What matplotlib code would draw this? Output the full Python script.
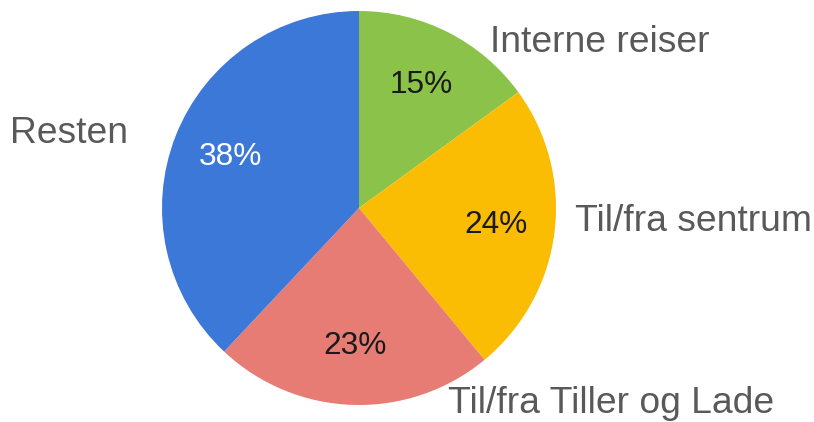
import matplotlib.pyplot as plt

plt.rcParams['font.family'] = ['Liberation Sans', 'DejaVu Sans']

labels = ['Interne reiser', 'Til/fra sentrum', 'Til/fra Tiller og Lade', 'Resten']
shares = [15, 24, 23, 38]
colors = ['#8bc34a', '#fbbc04', '#e67c73', '#3c78d8']
pct_colors = ['#1a1a1a', '#1a1a1a', '#1a1a1a', '#ffffff']

# label placement (pie radius = 1)
label_pos = [(0.665, 0.84, 'left'), (1.095, -0.07, 'left'),
             (0.45, -0.99, 'left'), (-1.175, 0.38, 'right')]

fig = plt.figure(figsize=(8.14, 4.22), dpi=100)
ax = fig.add_axes([(359 - 197) / 814, (422 - 208 - 197) / 422, 394 / 814, 394 / 422])

wedges, texts, autotexts = ax.pie(shares, colors=colors, startangle=90, counterclock=False,
                                  autopct='%d%%', pctdistance=0.7, radius=1,
                                  wedgeprops=dict(linewidth=0),
                                  textprops=dict(fontsize=22.8))
for t, c in zip(autotexts, pct_colors):
    t.set_color(c)

for lab, (x, y, ha) in zip(labels, label_pos):
    ax.text(x, y, lab, ha=ha, va='center', fontsize=26.8, color='#595959')

ax.set_xlim(-1, 1)
ax.set_ylim(-1, 1)
ax.set_aspect('equal')
ax.axis('off')

plt.savefig('out.png', dpi=100)
